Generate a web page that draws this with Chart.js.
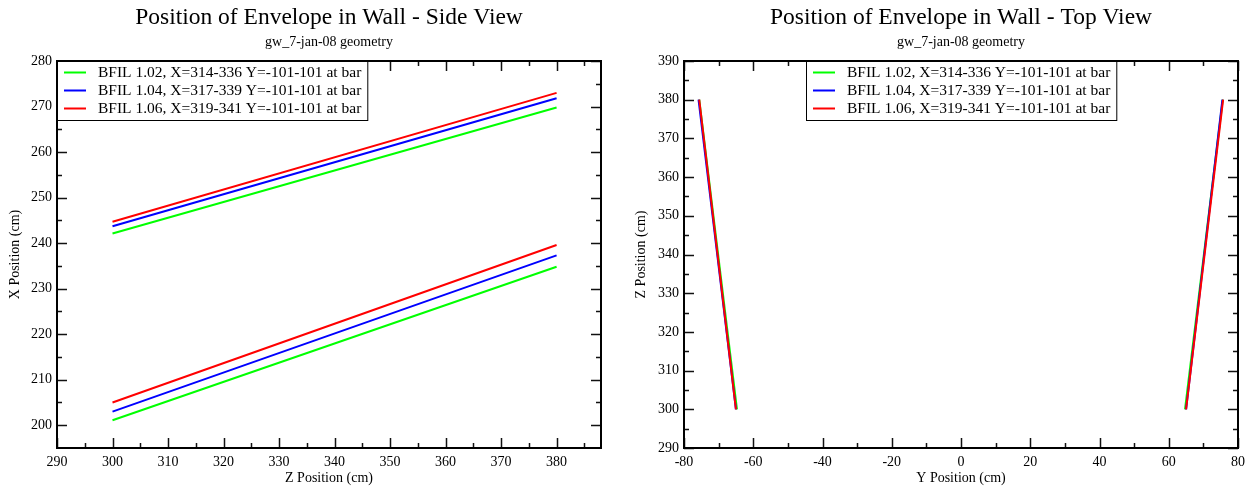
<!DOCTYPE html>
<html>
<head>
<meta charset="utf-8">
<title>Position of Envelope in Wall</title>
<script src="https://cdn.jsdelivr.net/npm/chart.js@4.4.0/dist/chart.umd.min.js"></script>
<style>
  html, body { margin: 0; padding: 0; background: #fff; }
  #side { position: absolute; left: 0; top: 0; }
  #top { position: absolute; left: 626px; top: 0; }
</style>
</head>
<body>
<canvas id="side" width="626" height="493"></canvas>
<canvas id="top" width="625" height="493"></canvas>
<script>
const seriesLabels = [
  'BFIL 1.02, X=314-336 Y=-101-101 at bar',
  'BFIL 1.04, X=317-339 Y=-101-101 at bar',
  'BFIL 1.06, X=319-341 Y=-101-101 at bar'
];
const seriesColors = ['#00ff00', '#0000ff', '#ff0000'];

// side view: Z (cm) at both ends, X (cm) of upper and lower edge per series
const sideZ = [300, 380];
const sideUpperX = [[242.1, 269.8], [243.7, 271.8], [244.7, 273.0]];
const sideLowerX = [[201.1, 234.8], [203.0, 237.3], [205.0, 239.6]];
const sideXTicks = [290, 300, 310, 320, 330, 340, 350, 360, 370, 380];
const sideYTicks = [200, 210, 220, 230, 240, 250, 260, 270, 280];

// top view: Z (cm) at both ends, Y (cm) of left and right edge per series
const topZ = [300, 380];
const topLeftY = [[-64.7, -75.6], [-65.0, -75.8], [-65.0, -75.6]];
const topRightY = [[64.7, 75.6], [65.0, 75.5], [65.0, 75.7]];
const topXTicks = [-80, -60, -40, -20, 0, 20, 40, 60, 80];
const topYTicks = [290, 300, 310, 320, 330, 340, 350, 360, 370, 380, 390];

const serif = '"Liberation Serif", "Times New Roman", serif';
Chart.defaults.font.family = serif;
Chart.defaults.font.size = 14;
Chart.defaults.color = '#000';

// minor ticks halfway between the major ones, kept inside the axis range
function minorValues(scale) {
  const t = scale.ticks.map(k => k.value);
  if (t.length < 2) return [];
  const half = (t[1] - t[0]) / 2;
  const out = [];
  for (let v = t[0] - half; v < scale.max; v += 2 * half) {
    if (v > scale.min) out.push(v);
  }
  return out;
}

// grace-style frame with inward ticks on all four sides
const frameTicks = {
  id: 'frameTicks',
  afterDatasetsDraw(chart) {
    const {ctx, chartArea: a, scales: {x, y}} = chart;
    ctx.save();
    ctx.strokeStyle = '#111';
    ctx.lineWidth = 1.5;
    ctx.beginPath();
    const vx = (v, len) => {
      const p = Math.round(x.getPixelForValue(v)) + 0.5;
      ctx.moveTo(p, a.bottom); ctx.lineTo(p, a.bottom - len);
      ctx.moveTo(p, a.top); ctx.lineTo(p, a.top + len);
    };
    const hy = (v, len) => {
      const p = Math.round(y.getPixelForValue(v)) + 0.5;
      ctx.moveTo(a.left, p); ctx.lineTo(a.left + len, p);
      ctx.moveTo(a.right, p); ctx.lineTo(a.right - len, p);
    };
    x.ticks.forEach(t => vx(t.value, 10));
    minorValues(x).forEach(v => vx(v, 5));
    y.ticks.forEach(t => hy(t.value, 10));
    minorValues(y).forEach(v => hy(v, 5));
    ctx.stroke();
    ctx.strokeStyle = '#000';
    ctx.lineWidth = 2;
    ctx.strokeRect(a.left, a.top, a.width, a.height);
    ctx.restore();
  }
};

// boxed legend sitting on the top edge of the plot
const boxLegend = {
  id: 'boxLegend',
  afterDraw(chart, args, opts) {
    const {ctx, chartArea: a} = chart;
    const sets = chart.data.datasets;
    ctx.save();
    ctx.font = '15.5px ' + serif;
    const tw = Math.max(...sets.map(d => ctx.measureText(d.label).width));
    const w = 7 + 22 + 12 + tw + 6;
    const rowH = 18;
    const h = sets.length * rowH + 5;
    const left = opts.align === 'center' ? Math.round((a.left + a.right - w) / 2) : a.left;
    const top = a.top;
    ctx.fillStyle = '#fff';
    ctx.fillRect(left, top, w, h);
    ctx.strokeStyle = '#000';
    ctx.lineWidth = 1;
    ctx.strokeRect(left + 0.5, top + 0.5, w, h);
    ctx.textBaseline = 'middle';
    sets.forEach((d, i) => {
      const cy = top + 11.5 + i * rowH;
      ctx.strokeStyle = d.borderColor;
      ctx.lineWidth = 2;
      ctx.beginPath();
      ctx.moveTo(left + 7, cy);
      ctx.lineTo(left + 29, cy);
      ctx.stroke();
      ctx.fillStyle = '#000';
      ctx.fillText(d.label, left + 41, cy);
    });
    ctx.restore();
  }
};

function makeOptions(cfg) {
  return {
    responsive: false,
    animation: false,
    devicePixelRatio: 1,
    layout: { padding: { left: 0, right: cfg.rightPad, top: 0, bottom: 0 } },
    elements: { point: { radius: 0 }, line: { borderWidth: 2, tension: 0 } },
    plugins: {
      legend: { display: false },
      tooltip: { enabled: false },
      title: {
        display: true, text: cfg.title, fullSize: false,
        font: { size: 23.5, weight: 'normal' }, padding: { top: 3.5, bottom: 0 }
      },
      subtitle: {
        display: true, text: 'gw_7-jan-08 geometry', fullSize: false,
        font: { size: 14 }, padding: { top: 2, bottom: 10.5 }
      },
      boxLegend: { align: cfg.legendAlign }
    },
    scales: {
      x: {
        type: 'linear', min: cfg.xMin, max: cfg.xMax, bounds: 'data',
        grid: { display: false, drawTicks: false }, border: { display: false },
        afterBuildTicks: s => { s.ticks = cfg.xTicks.map(v => ({ value: v })); },
        afterFit: s => { s.height = 45; },
        ticks: { padding: 6, maxRotation: 0, autoSkip: false },
        title: { display: true, text: cfg.xTitle, padding: { top: 0, bottom: 6.6 } }
      },
      y: {
        type: 'linear', min: cfg.yMin, max: cfg.yMax, bounds: 'data',
        grid: { display: false, drawTicks: false }, border: { display: false },
        afterBuildTicks: s => { s.ticks = cfg.yTicks.map(v => ({ value: v })); },
        afterFit: s => { s.width = cfg.yWidth; },
        ticks: { padding: 5, autoSkip: false },
        title: { display: true, text: cfg.yTitle, padding: { top: 6.6, bottom: 0 } }
      }
    }
  };
}

// each series: first edge, a null break, second edge; red is drawn on top
function edgeSets(first, second, toPoint) {
  return seriesLabels.map((label, i) => ({
    label: label,
    borderColor: seriesColors[i],
    backgroundColor: seriesColors[i],
    order: seriesLabels.length - i,
    spanGaps: false,
    data: [
      toPoint(0, first[i][0]), toPoint(1, first[i][1]),
      { x: 0, y: null },
      toPoint(0, second[i][0]), toPoint(1, second[i][1])
    ]
  }));
}

const sideSets = edgeSets(sideUpperX, sideLowerX, (k, v) => ({ x: sideZ[k], y: v }));
const topSets = edgeSets(topLeftY, topRightY, (k, v) => ({ x: v, y: topZ[k] }));

new Chart(document.getElementById('side'), {
  type: 'line',
  data: { datasets: sideSets },
  options: makeOptions({
    title: 'Position of Envelope in Wall - Side View',
    xTitle: 'Z Position (cm)', yTitle: 'X Position (cm)',
    xMin: 290, xMax: 388, xTicks: sideXTicks,
    yMin: 195, yMax: 280, yTicks: sideYTicks,
    yWidth: 57, rightPad: 25, legendAlign: 'left'
  }),
  plugins: [frameTicks, boxLegend]
});

new Chart(document.getElementById('top'), {
  type: 'line',
  data: { datasets: topSets },
  options: makeOptions({
    title: 'Position of Envelope in Wall - Top View',
    xTitle: 'Y Position (cm)', yTitle: 'Z Position (cm)',
    xMin: -80, xMax: 80, xTicks: topXTicks,
    yMin: 290, yMax: 390, yTicks: topYTicks,
    yWidth: 58, rightPad: 13, legendAlign: 'center'
  }),
  plugins: [frameTicks, boxLegend]
});
</script>
</body>
</html>
